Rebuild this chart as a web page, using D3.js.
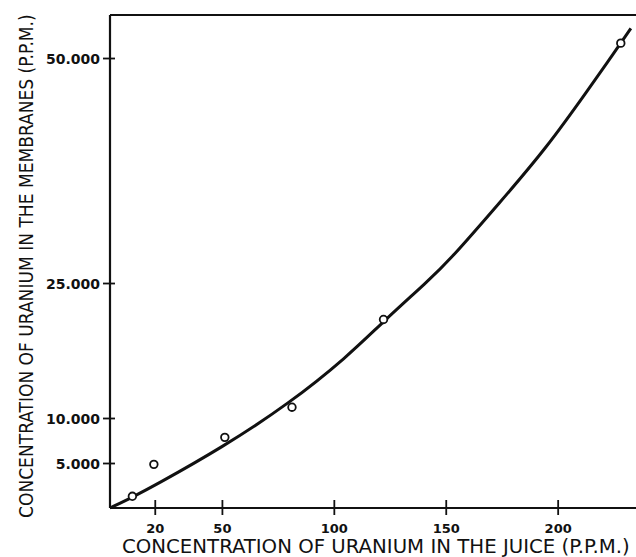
<!DOCTYPE html>
<html>
<head>
<meta charset="utf-8">
<script src="https://cdn.jsdelivr.net/npm/d3@7"></script>
<style>
  html, body { margin: 0; padding: 0; background: #fff; }
  svg { display: block; }
</style>
</head>
<body>
<svg id="chart" width="636" height="557"></svg>
<script>
// measured points (juice ppm, membrane ppm)
const juice    = [10, 19.6, 51.3, 81.3, 122.2, 228.2];
const membrane = [1300, 4850, 7850, 11200, 20950, 51650];

// hand-drawn fitted curve
const curveX = [0, 10, 20, 50, 80, 106, 122, 142, 152, 174, 195, 214.5, 223, 232.7];
const curveY = [0, 1200, 2500, 6700, 11600, 16800, 20700, 25200, 27600, 33900, 40000, 46800, 49800, 53300];

const xTicks = [20, 50, 100, 150, 200];
const yTicks = [5000, 10000, 25000, 50000];
const yTickLabels = ['5.000', '10.000', '25.000', '50.000'];

const svg = d3.select('#chart');
const plotL = 110, plotR = 636, plotT = 15, plotB = 508;
const ink = '#111';

const x = d3.scaleLinear().domain([0, 235]).range([plotL, plotR]);
const y = d3.scaleLinear().domain([0, 54780]).range([plotB, plotT]);

// frame: top rule
svg.append('line')
  .attr('x1', plotL).attr('x2', plotR).attr('y1', plotT).attr('y2', plotT)
  .attr('stroke', ink).attr('stroke-width', 2);

// x axis
const gx = svg.append('g')
  .attr('transform', `translate(0,${plotB})`)
  .call(d3.axisBottom(x).tickValues(xTicks).tickSizeOuter(0));
gx.select('.domain').attr('stroke', ink).attr('stroke-width', 2.2)
  .attr('d', `M${plotL},0H${plotR}`);
gx.selectAll('.tick line').attr('stroke', ink).attr('stroke-width', 1.8)
  .attr('y1', -8).attr('y2', 7);
gx.selectAll('.tick text')
  .attr('y', 25).attr('dy', null)
  .attr('fill', ink)
  .attr('font-family', 'DejaVu Sans, sans-serif')
  .attr('font-weight', 'bold').attr('font-size', 13);

// y axis
const gy = svg.append('g')
  .attr('transform', `translate(${plotL},0)`)
  .call(d3.axisLeft(y).tickValues(yTicks)
    .tickFormat((d, i) => yTickLabels[i]).tickSizeOuter(0));
gy.select('.domain').attr('stroke', ink).attr('stroke-width', 2.2)
  .attr('d', `M0,${plotB}V${plotT}`);
gy.selectAll('.tick line').attr('stroke', ink).attr('stroke-width', 1.8)
  .attr('x1', -7).attr('x2', 5);
gy.selectAll('.tick text')
  .attr('x', -10).attr('dy', '0.36em')
  .attr('fill', ink)
  .attr('font-family', 'DejaVu Sans, sans-serif')
  .attr('font-weight', 'bold').attr('font-size', 14);

// axis titles — narrow the glyphs with a horizontal scale so they fit the span
function squeezedLabel(txt, size, span, place) {
  const t = svg.append('text')
    .attr('fill', ink)
    .attr('font-family', 'DejaVu Sans Condensed, DejaVu Sans, sans-serif')
    .attr('font-size', size)
    .text(txt);
  const sx = span / t.node().getComputedTextLength();
  t.attr('transform', `${place} scale(${sx},1)`);
}
squeezedLabel('CONCENTRATION OF URANIUM IN THE JUICE (P.P.M.)', 19, 508, 'translate(122,553)');
squeezedLabel('CONCENTRATION OF URANIUM IN THE MEMBRANES (P.P.M.)', 20, 504, 'translate(33,518) rotate(-90)');

// fitted curve
const line = d3.line()
  .x(i => x(curveX[i]))
  .y(i => y(curveY[i]))
  .curve(d3.curveBasis);
svg.append('path')
  .attr('d', line(d3.range(curveX.length)))
  .attr('fill', 'none').attr('stroke', ink).attr('stroke-width', 3);

// measured points
svg.append('g').selectAll('circle')
  .data(d3.range(juice.length))
  .join('circle')
  .attr('cx', i => x(juice[i]))
  .attr('cy', i => y(membrane[i]))
  .attr('r', 3.8)
  .attr('fill', '#fff').attr('stroke', ink).attr('stroke-width', 1.8);
</script>
</body>
</html>
